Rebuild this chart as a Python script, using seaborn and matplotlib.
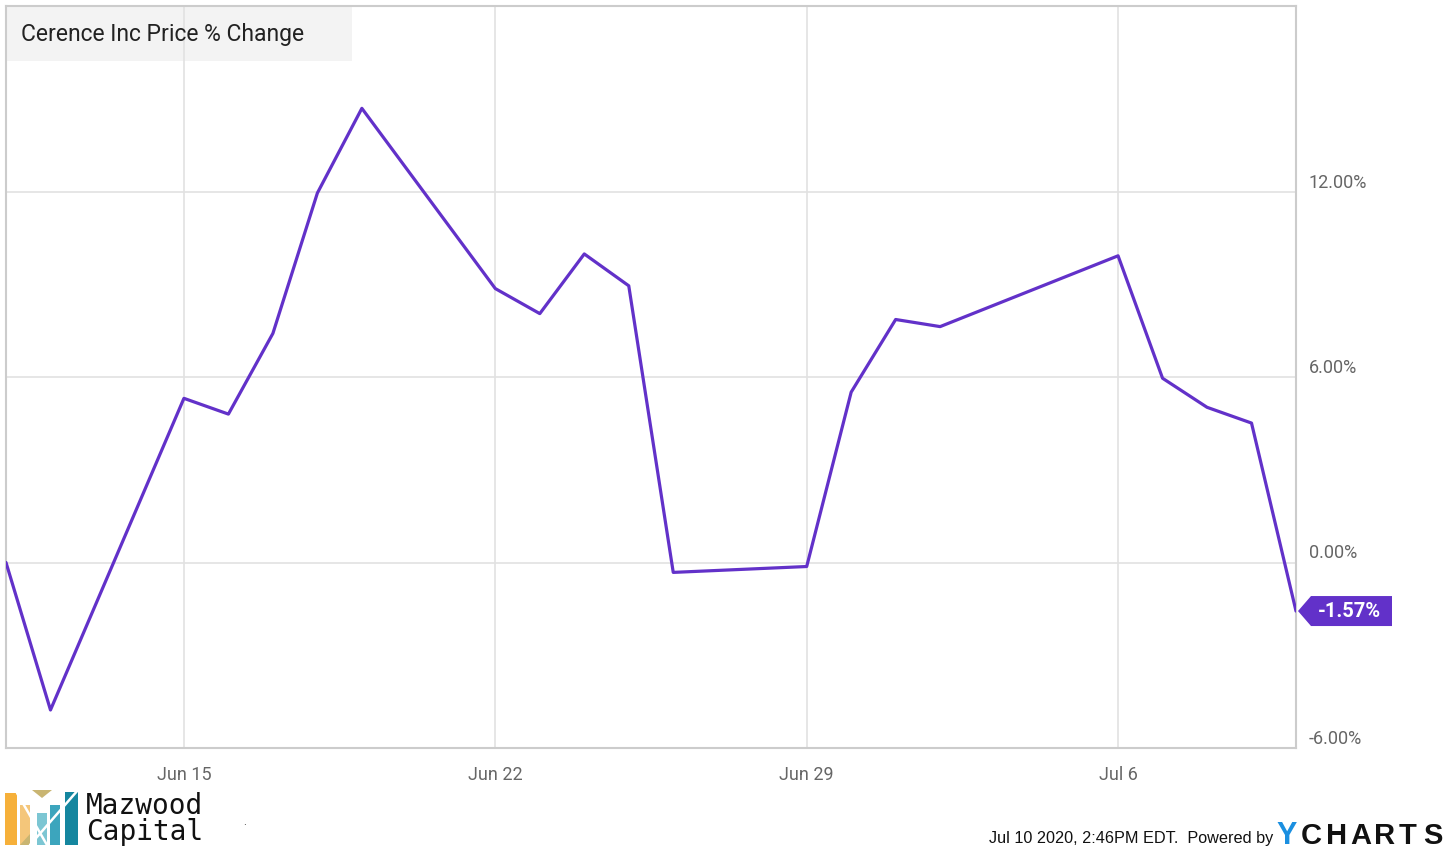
import pandas as pd
import seaborn as sns
import matplotlib
matplotlib.use('Agg')
import matplotlib.pyplot as plt
import matplotlib.dates as mdates
import matplotlib.transforms as mtransforms
from matplotlib.patches import Polygon, Rectangle
from matplotlib.lines import Line2D

# Datos (variacion % del precio de Cerence Inc)
fechas = ['2020-06-11', '2020-06-12', '2020-06-15', '2020-06-16', '2020-06-17',
          '2020-06-18', '2020-06-19', '2020-06-22', '2020-06-23', '2020-06-24',
          '2020-06-25', '2020-06-26', '2020-06-29', '2020-06-30', '2020-07-01',
          '2020-07-02', '2020-07-06', '2020-07-07', '2020-07-08', '2020-07-09',
          '2020-07-10']
cambio = [0.00, -4.77, 5.31, 4.80, 7.41, 11.95, 14.69, 8.86, 8.05, 9.98,
          8.95, -0.32, -0.13, 5.51, 7.86, 7.63, 9.92, 5.96, 5.02, 4.51, -1.57]
ticks_x = ['2020-06-15', '2020-06-22', '2020-06-29', '2020-07-06']
ticks_y = [-6, 0, 6, 12]
titulo = 'Cerence Inc Price % Change'
ultimo = '-1.57%'

datos = pd.DataFrame({'Fecha': pd.to_datetime(fechas), 'Cambio': cambio})

sns.set_style('white')
plt.rcParams['font.family'] = ['Roboto', 'DejaVu Sans']

violeta = '#6231c9'
gris_txt = '#666666'

fig = plt.figure(figsize=(14.56, 8.58), dpi=100)
ax = fig.add_axes([6 / 1456, 110 / 858, 1290 / 1456, 742 / 858])

sns.lineplot(x='Fecha', y='Cambio', data=datos, color=violeta, linewidth=2.3, ax=ax, zorder=3)

ax.set_xlim(pd.Timestamp(fechas[0]), pd.Timestamp(fechas[-1]))
ax.set_ylim(-6, 18)
ax.set_xlabel('')
ax.set_ylabel('')

# ejes / grilla
ax.set_axisbelow(True)
ax.grid(True, color='#e2e2e2', linewidth=1.2)
for s in ax.spines.values():
    s.set_color('#cccccc')
    s.set_linewidth(1.5)

ax.set_xticks(pd.to_datetime(ticks_x))
ax.xaxis.set_major_formatter(mdates.DateFormatter('%b %-d'))
ax.set_yticks(ticks_y)
ax.set_yticklabels([f'{v:.2f}%' for v in ticks_y])
ax.yaxis.tick_right()
ax.tick_params(axis='both', length=0, colors=gris_txt, labelsize=13)
ax.tick_params(axis='y', pad=9)
ax.tick_params(axis='x', pad=13)
# etiquetas del eje y un poco por encima de la grilla
desplazo = mtransforms.ScaledTranslation(0, 11 / 100, fig.dpi_scale_trans)
for lab in ax.get_yticklabels():
    lab.set_transform(lab.get_transform() + desplazo)
    lab.set_horizontalalignment('left')

# caja del titulo
ax.add_patch(Rectangle((0, 1 - 55 / 742), 346 / 1290, 55 / 742, transform=ax.transAxes,
                       facecolor='#f3f3f3', edgecolor='none', zorder=0.4))
ax.text(15 / 1290, 1 - 29 / 742, titulo, transform=ax.transAxes, fontsize=16.5,
        color='#222222', va='center', ha='left', zorder=5)

# marcador del ultimo valor
x_fin = mdates.date2num(datos['Fecha'].iloc[-1])
y_fin = datos['Cambio'].iloc[-1]
trans = fig.dpi_scale_trans + mtransforms.ScaledTranslation(x_fin, y_fin, ax.transData)
pts = [(0.02, 0), (0.15, 0.15), (0.96, 0.15), (0.96, -0.15), (0.15, -0.15)]
fig.patches.append(Polygon(pts, closed=True, transform=trans, facecolor=violeta,
                           edgecolor='none', figure=fig))
fig.text(0.53, 0.0, ultimo, transform=trans, color='white', fontsize=14.5,
         fontweight='bold', ha='center', va='center')

# logo Mazwood Capital
def fc(x, y):
    return (x / 1456, 1 - y / 858)

logo = [
    ([(5, 793), (17, 793), (17, 845), (5, 845)], '#f6b03a'),
    ([(20, 805), (30, 805), (30, 845), (20, 845)], '#f4c67a'),
    ([(32, 790), (52, 790), (42, 798)], '#c9b572'),
    ([(20, 845), (30, 845), (30, 834)], '#c9b572'),
    ([(37, 813), (47, 813), (47, 845), (37, 845)], '#7cc6d3'),
    ([(50, 805), (60, 805), (60, 845), (50, 845)], '#3ca5bd'),
    ([(65, 792), (78, 792), (78, 845), (65, 845)], '#15869f'),
]
for verts, col in logo:
    fig.patches.append(Polygon([fc(x, y) for x, y in verts], closed=True,
                               transform=fig.transFigure, facecolor=col,
                               edgecolor='none', figure=fig))
for (xa, ya), (xb, yb) in [((17, 793), (47, 845)), ((78, 790), (30, 845))]:
    fig.add_artist(Line2D([fc(xa, ya)[0], fc(xb, yb)[0]], [fc(xa, ya)[1], fc(xb, yb)[1]],
                          transform=fig.transFigure, color='white', linewidth=1.8))
fig.text(86 / 1456, 1 - 819 / 858, 'Mazwood\nCapital', family='DejaVu Sans Mono',
         fontsize=20, color='#111111', va='center', ha='left', linespacing=0.95)
fig.text(245 / 1456, 1 - 822 / 858, '.', fontsize=8, color='#333333', ha='center', va='center')

# pie de pagina
fig.text(1273 / 1456, 1 - 838 / 858, 'Jul 10 2020, 2:46PM EDT.  Powered by',
         family='Liberation Sans', fontsize=11.7, color='#111111',
         ha='right', va='center')
fig.text(1276 / 1456, 1 - 836 / 858, 'Y', family='Liberation Sans', fontweight='bold',
         fontsize=22, color='#1a8fe0', ha='left', va='center')
for i, letra in enumerate('CHARTS'):
    fig.text((1301 + i * 24.5) / 1456, 1 - 836 / 858, letra, family='Liberation Sans',
             fontweight='bold', fontsize=21, color='#111111', ha='left', va='center')

fig.savefig('out.png', dpi=100, facecolor='white')
